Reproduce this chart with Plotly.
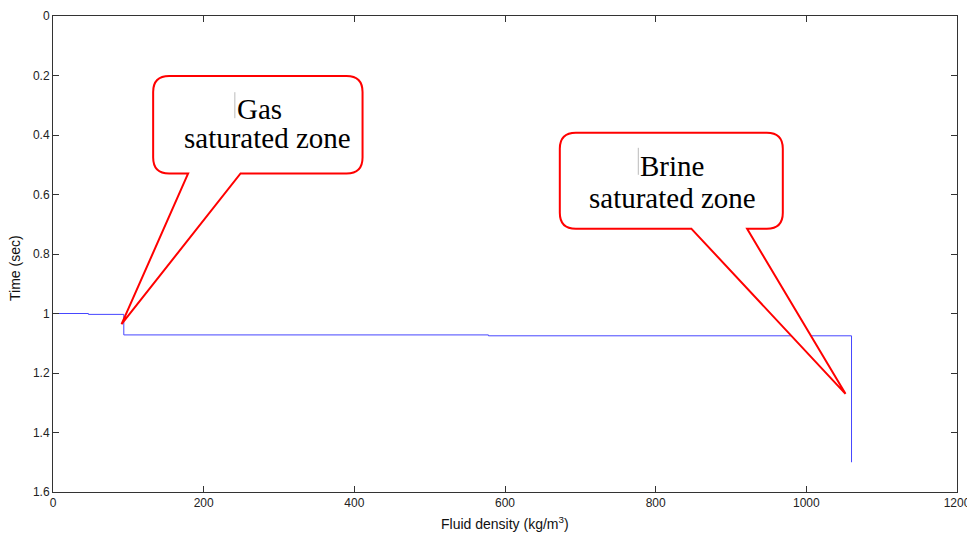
import plotly.graph_objects as go

# Fluid density profile versus two-way time (step log)
density = [0, 47, 94, 578, 1060]            # kg/m^3
time_sec = [1.000, 1.003, 1.072, 1.075, 1.500]

x_ticks = [0, 200, 400, 600, 800, 1000, 1200]
y_ticks = [0, 0.2, 0.4, 0.6, 0.8, 1, 1.2, 1.4, 1.6]

gas_label = ["Gas", "saturated zone"]
brine_label = ["Brine", "saturated zone"]
gas_tip = (91, 1.036)
brine_tip = (1052, 1.27)

# Page / plot-area geometry in pixels
W, H = 967, 535
M_L, M_R, M_T, M_B = 53, 10, 16, 43
PW, PH = W - M_L - M_R, H - M_T - M_B
X_MAX, Y_MAX = x_ticks[-1], y_ticks[-1]


def to_px(x, y):
    return M_L + x / X_MAX * PW, M_T + y / Y_MAX * PH


def to_data(xp, yp):
    return (xp - M_L) / PW * X_MAX, (yp - M_T) / PH * Y_MAX


def callout_path(tip, left, right, top, bottom, base_l, base_r, r=16):
    """Rounded speech box with a wedge tail; offsets in pixels from the tip."""
    tx, ty = to_px(*tip)
    L, R, T, B = tx + left, tx + right, ty + top, ty + bottom
    bl, br = tx + base_l, tx + base_r
    pts = [
        ("M", [(bl, B)]),
        ("L", [(tx, ty)]),
        ("L", [(br, B)]),
        ("L", [(R - r, B)]),
        ("Q", [(R, B), (R, B - r)]),
        ("L", [(R, T + r)]),
        ("Q", [(R, T), (R - r, T)]),
        ("L", [(L + r, T)]),
        ("Q", [(L, T), (L, T + r)]),
        ("L", [(L, B - r)]),
        ("Q", [(L, B), (L + r, B)]),
    ]
    parts = []
    for cmd, coords in pts:
        cs = " ".join("%.4f,%.5f" % to_data(px, py) for px, py in coords)
        parts.append(cmd + " " + cs)
    return " ".join(parts) + " Z"


fig = go.Figure()
fig.add_trace(go.Scatter(
    x=density, y=time_sec, mode="lines", line_shape="hv",
    line=dict(color="#4646ff", width=1), showlegend=False,
    hoverinfo="skip",
))

shapes = [
    dict(type="path", xref="x", yref="y", layer="above",
         path=callout_path(gas_tip, 31.6, 241, -248.3, -150.8, 66.6, 119),
         line=dict(color="#ff0000", width=2), fillcolor="white"),
    dict(type="path", xref="x", yref="y", layer="above",
         path=callout_path(brine_tip, -285.7, -62.7, -261, -165, -154, -98.4),
         line=dict(color="#ff0000", width=2), fillcolor="white"),
]

# Thin text-cursor marks left in the callouts
for tip, dx, y0, y1 in [(gas_tip, 113.3, -232, -206), (brine_tip, -207.2, -246, -219)]:
    tx, ty = to_px(*tip)
    xa, ya = to_data(tx + dx, ty + y0)
    xb, yb = to_data(tx + dx, ty + y1)
    shapes.append(dict(type="line", xref="x", yref="y", layer="above",
                       x0=xa, y0=ya, x1=xb, y1=yb,
                       line=dict(color="#bbbbbb", width=1)))

annotations = []
serif = dict(family="Liberation Serif, Times New Roman, serif", size=29, color="black")
for tip, label, offsets in [
    (gas_tip, gas_label, [(114.3, -215), (61, -186.6)]),
    (brine_tip, brine_label, [(-206.7, -228), (-258, -196.3)]),
]:
    tx, ty = to_px(*tip)
    for text, (dx, dy) in zip(label, offsets):
        xd, yd = to_data(tx + dx, ty + dy)
        annotations.append(dict(x=xd, y=yd, xref="x", yref="y", text=text,
                                showarrow=False, xanchor="left", yanchor="middle",
                                font=serif, borderpad=0))

sans = "Liberation Sans, Arial, Helvetica, sans-serif"
annotations.append(dict(
    x=0.5, y=(PH + M_T - 523) / PH, xref="paper", yref="paper",
    text="Fluid density (kg/m<sup>3</sup>)", showarrow=False,
    xanchor="center", yanchor="middle", font=dict(family=sans, size=14, color="#111")))
annotations.append(dict(
    x=(15 - M_L) / PW, y=(PH + M_T - 268) / PH, xref="paper", yref="paper",
    text="Time (sec)", textangle=-90, showarrow=False,
    xanchor="center", yanchor="middle", font=dict(family=sans, size=14, color="#111")))

axis_common = dict(
    showline=True, linecolor="#333333", linewidth=1, mirror="ticks",
    ticks="inside", ticklen=6, tickcolor="#333333", tickwidth=1,
    showgrid=False, zeroline=False, ticklabeloverflow="allow",
    automargin=False,
    tickfont=dict(family=sans, size=12, color="#222"),
)

fig.update_layout(
    width=W, height=H,
    margin=dict(l=M_L, r=M_R, t=M_T, b=M_B, pad=0, autoexpand=False),
    paper_bgcolor="white", plot_bgcolor="white",
    xaxis=dict(range=[0, X_MAX], tickvals=x_ticks, **axis_common),
    yaxis=dict(range=[Y_MAX, 0], tickvals=y_ticks, **axis_common),
    shapes=shapes, annotations=annotations,
)

fig.write_html("out.html")
